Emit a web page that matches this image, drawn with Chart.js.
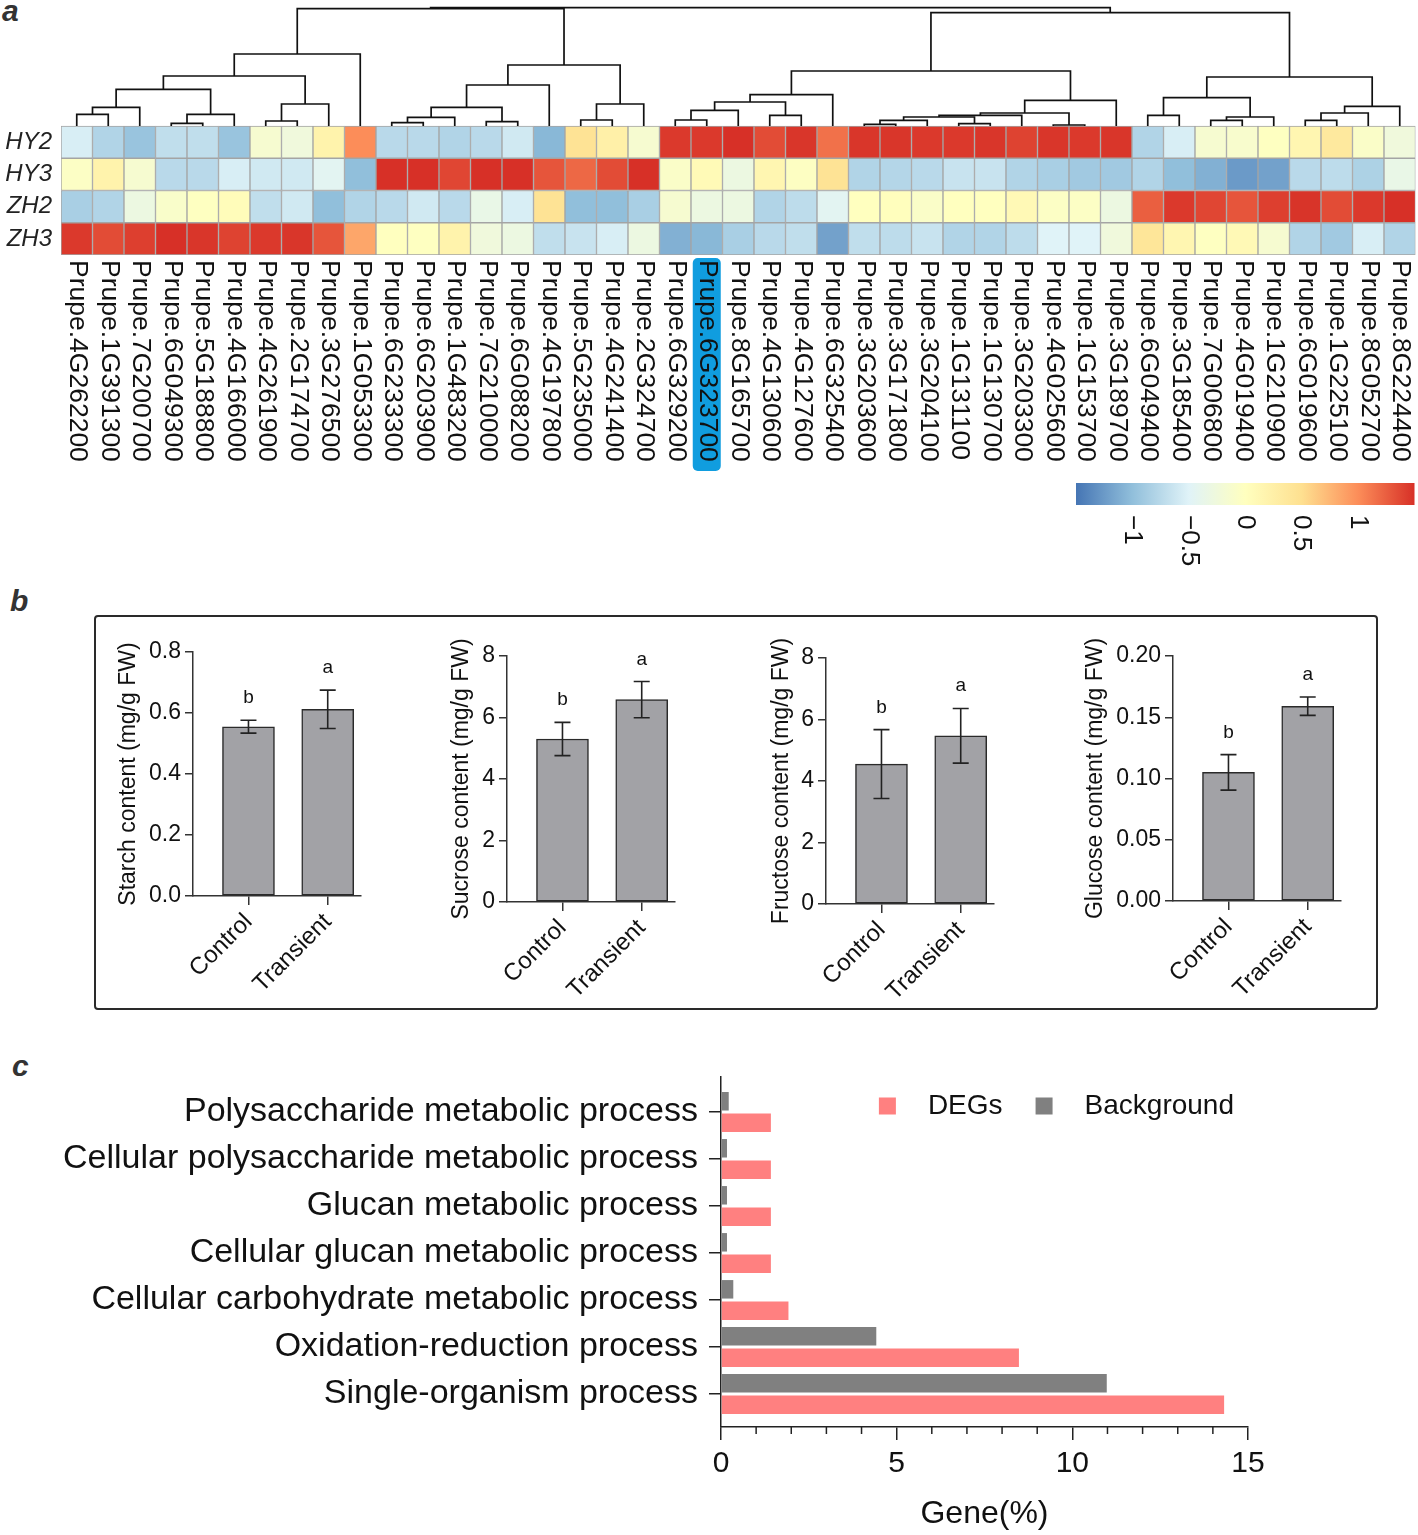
<!DOCTYPE html>
<html>
<head>
<meta charset="utf-8">
<script src="https://cdn.jsdelivr.net/npm/chart.js@4.4.0/dist/chart.umd.min.js"></script>
<style>
  body { margin: 0; background: #fff; width: 1418px; height: 1535px; position: relative; overflow: hidden; }
  .pane { position: absolute; }
  .tag { position: absolute; font: italic bold 30px "Liberation Sans", Arial, sans-serif; color: #333; line-height: 30px; }
  #boxB { position: absolute; left: 94px; top: 615px; width: 1284px; height: 395px; box-sizing: border-box;
          border: 2px solid #2a2a2a; border-radius: 4px; }
</style>
</head>
<body>
<div class="tag" style="left:2px;top:-4px">a</div>
<div class="tag" style="left:10px;top:586px">b</div>
<div class="tag" style="left:12px;top:1051px">c</div>

<div class="pane" style="left:0;top:0;width:1418px;height:580px"><canvas id="heat"></canvas></div>

<div id="boxB"></div>
<div class="pane" style="left:93px;top:620px;width:283px;height:385px"><canvas id="starch"></canvas></div>
<div class="pane" style="left:407px;top:620px;width:283px;height:385px"><canvas id="sucrose"></canvas></div>
<div class="pane" style="left:726px;top:620px;width:283px;height:385px"><canvas id="fructose"></canvas></div>
<div class="pane" style="left:1073px;top:620px;width:283px;height:385px"><canvas id="glucose"></canvas></div>

<div class="pane" style="left:0;top:1050px;width:1418px;height:485px"><canvas id="go"></canvas></div>

<script>
// ---------- panel a: heatmap data (row-scaled expression) ----------
const GENES = [
  'Prupe.4G262200', 'Prupe.1G391300', 'Prupe.7G200700', 'Prupe.6G049300', 'Prupe.5G188800',
  'Prupe.4G166000', 'Prupe.4G261900', 'Prupe.2G174700', 'Prupe.3G276500', 'Prupe.1G053300',
  'Prupe.6G233300', 'Prupe.6G203900', 'Prupe.1G483200', 'Prupe.7G210000', 'Prupe.6G088200',
  'Prupe.4G197800', 'Prupe.5G235000', 'Prupe.4G241400', 'Prupe.2G324700', 'Prupe.6G329200',
  'Prupe.6G323700', 'Prupe.8G165700', 'Prupe.4G130600', 'Prupe.4G127600', 'Prupe.6G325400',
  'Prupe.3G203600', 'Prupe.3G171800', 'Prupe.3G204100', 'Prupe.1G131100', 'Prupe.1G130700',
  'Prupe.3G203300', 'Prupe.4G025600', 'Prupe.1G153700', 'Prupe.3G189700', 'Prupe.6G049400',
  'Prupe.3G185400', 'Prupe.7G006800', 'Prupe.4G019400', 'Prupe.1G210900', 'Prupe.6G019600',
  'Prupe.1G225100', 'Prupe.8G052700', 'Prupe.8G224400'
];
const HIGHLIGHT = 'Prupe.6G323700';
const SAMPLES = ['HY2', 'HY3', 'ZH2', 'ZH3'];

const HY2 = [-0.55, -0.8, -0.95, -0.7, -0.7, -0.95, -0.15, -0.25, 0.2, 1.0,
  -0.75, -0.75, -0.8, -0.75, -0.6, -1.05, 0.45, 0.25, -0.15, 1.45,
  1.45, 1.5, 1.35, 1.47, 1.15, 1.47, 1.47, 1.45, 1.45, 1.47,
  1.4, 1.47, 1.45, 1.47, -0.8, -0.55, -0.15, -0.12, -0.02, 0.15,
  0.35, -0.08, -0.25];
const HY3 = [-0.05, 0.2, -0.15, -0.75, -0.75, -0.55, -0.6, -0.6, -0.45, -1.0,
  1.5, 1.5, 1.38, 1.5, 1.5, 1.3, 1.2, 1.35, 1.5, -0.08,
  0.08, -0.3, 0.15, -0.03, 0.45, -0.8, -0.78, -0.75, -0.65, -0.65,
  -0.8, -0.85, -0.9, -0.9, -0.8, -1.0, -1.1, -1.25, -1.2, -0.75,
  -0.72, -0.82, -0.35];
const ZH2 = [-0.85, -0.8, -0.3, -0.1, -0.02, 0.05, -0.7, -0.6, -1.0, -0.8,
  -0.75, -0.6, -0.75, -0.35, -0.55, 0.45, -1.0, -1.0, -0.85, -0.15,
  -0.3, -0.3, -0.8, -0.72, -0.45, 0.0, 0.02, -0.08, 0.0, 0.0,
  0.1, -0.05, -0.05, -0.3, 1.25, 1.45, 1.38, 1.3, 1.42, 1.48,
  1.35, 1.45, 1.5];
const ZH3 = [1.45, 1.35, 1.42, 1.5, 1.47, 1.4, 1.45, 1.47, 1.3, 0.85,
  0.0, -0.02, 0.2, -0.25, -0.3, -0.7, -0.65, -0.55, -0.3, -1.1,
  -1.05, -0.85, -0.75, -0.7, -1.2, -0.7, -0.72, -0.65, -0.8, -0.8,
  -0.72, -0.5, -0.5, -0.25, 0.4, 0.15, -0.02, 0.1, -0.15, -0.8,
  -0.9, -0.55, -0.8];

// column clustering, hclust style: [left, right, height]; negative = leaf number
const MERGES = [
  [-1, -2, 0.35], [1, -3, 0.56], [-4, -5, 0.08], [3, -6, 0.35], [2, 4, 1.10],
  [-7, -8, 0.15], [6, -9, 0.66], [5, 7, 1.50], [8, -10, 2.16], [-11, -12, 0.10],
  [10, -13, 0.26], [-14, -15, 0.13], [11, 12, 0.56], [13, -16, 1.23], [-17, -18, 0.18],
  [15, -19, 0.66], [14, 16, 1.83], [9, 17, 3.52], [-20, -21, 0.18], [19, -22, 0.47],
  [-23, -24, 0.32], [20, 21, 0.72], [22, -25, 0.94], [-26, -27, 0.05], [24, -28, 0.17],
  [-29, -30, 0.07], [25, 26, 0.27], [27, -31, 0.32], [-32, -33, 0.03], [28, 29, 0.39],
  [30, -34, 0.77], [23, 31, 1.65], [-35, -36, 0.32], [-37, -38, 0.17], [34, -39, 0.27],
  [33, 35, 0.85], [-40, -41, 0.17], [37, -42, 0.39], [38, -43, 0.59], [36, 39, 1.47],
  [32, 40, 3.40], [18, 41, 3.55]
];

const SCALE_TICKS = [-1, -0.5, 0, 0.5, 1];
const SCALE_MIN = -1.5, SCALE_MAX = 1.5;
const PALETTE = ['#4575b4', '#91bfdb', '#e0f3f8', '#ffffbf', '#fee090', '#fc8d59', '#d73027'];

// ---------- panel b ----------
const GROUPS = ['Control', 'Transient'];
const STARCH = [0.555, 0.612], STARCH_SD = [0.021, 0.063];
const SUCROSE = [5.30, 6.58], SUCROSE_SD = [0.54, 0.59];
const FRUCTOSE = [4.55, 5.47], FRUCTOSE_SD = [1.12, 0.89];
const GLUCOSE = [0.105, 0.159], GLUCOSE_SD = [0.0145, 0.0075];
const LETTERS = ['b', 'a'];

// ---------- panel c ----------
const GO_TERMS = [
  'Polysaccharide metabolic process',
  'Cellular polysaccharide metabolic process',
  'Glucan metabolic process',
  'Cellular glucan metabolic process',
  'Cellular carbohydrate metabolic process',
  'Oxidation-reduction process',
  'Single-organism process'
];
const DEG_PCT = [1.42, 1.42, 1.42, 1.42, 1.92, 8.48, 14.32];
const BG_PCT = [0.22, 0.17, 0.17, 0.17, 0.35, 4.42, 10.98];

const FONT = '"Liberation Sans", Arial, sans-serif';
Chart.defaults.font.family = FONT;
Chart.defaults.color = '#111';
Chart.defaults.animation = false;

function hexRgb(h) {
  return [1, 3, 5].map(i => parseInt(h.slice(i, i + 2), 16));
}
function zColor(v) {
  const t = Math.max(0, Math.min(1, (v - SCALE_MIN) / (SCALE_MAX - SCALE_MIN))) * (PALETTE.length - 1);
  const i = Math.min(PALETTE.length - 2, Math.floor(t));
  const f = t - i;
  const a = hexRgb(PALETTE[i]), b = hexRgb(PALETTE[i + 1]);
  const c = a.map((u, k) => Math.round(u + (b[k] - u) * f));
  return `rgb(${c[0]},${c[1]},${c[2]})`;
}

// dendrogram above the heatmap
const TREE_GAIN = 1.033;
const treePlugin = {
  id: 'tree',
  afterDatasetsDraw(chart) {
    const { ctx, scales: { x, y } } = chart;
    const pos = [], hgt = [];
    const node = k => k < 0 ? [x.getPixelForValue(-k - 1), 0] : [pos[k - 1], hgt[k - 1]];
    const py = h => y.getPixelForValue(SAMPLES.length + h * TREE_GAIN);
    ctx.save();
    ctx.strokeStyle = '#111';
    ctx.lineWidth = 1.7;
    MERGES.forEach(([a, b, h]) => {
      const [xa, ha] = node(a);
      const [xb, hb] = node(b);
      ctx.beginPath();
      ctx.moveTo(xa, py(ha));
      ctx.lineTo(xa, py(h));
      ctx.lineTo(xb, py(h));
      ctx.lineTo(xb, py(hb));
      ctx.stroke();
      pos.push((xa + xb) / 2);
      hgt.push(h);
    });
    ctx.restore();
  }
};

// rotated gene names + colour key
const labelPlugin = {
  id: 'geneLabels',
  afterDraw(chart) {
    const { ctx, scales: { x, y } } = chart;
    const top = y.getPixelForValue(0) + 5;
    ctx.save();
    ctx.font = '26.5px ' + FONT;
    GENES.forEach((g, i) => {
      const cx = x.getPixelForValue(i);
      if (g === HIGHLIGHT) {
        ctx.fillStyle = '#109ddf';
        ctx.beginPath();
        ctx.roundRect(cx - 14, top - 2, 28, 213, 5);
        ctx.fill();
      }
      ctx.save();
      ctx.translate(cx + 1, top);
      ctx.rotate(Math.PI / 2);
      ctx.fillStyle = '#111';
      ctx.textAlign = 'left';
      ctx.textBaseline = 'middle';
      ctx.fillText(g, 0, 0);
      ctx.restore();
    });

    // colour key
    const kx0 = 1076, kx1 = chart.chartArea.right - 1, ky = 483, kh = 22;
    const grad = ctx.createLinearGradient(kx0, 0, kx1, 0);
    PALETTE.forEach((c, i) => grad.addColorStop(i / (PALETTE.length - 1), c));
    ctx.fillStyle = grad;
    ctx.fillRect(kx0, ky, kx1 - kx0, kh);
    ctx.font = '26px ' + FONT;
    SCALE_TICKS.forEach(v => {
      const px = kx0 + (v - SCALE_MIN) / (SCALE_MAX - SCALE_MIN) * (kx1 - kx0);
      ctx.save();
      ctx.translate(px, ky + kh + 10);
      ctx.rotate(Math.PI / 2);
      ctx.fillStyle = '#111';
      ctx.textAlign = 'left';
      ctx.textBaseline = 'middle';
      ctx.fillText(String(v).replace('-', '\u2212'), 0, 0);
      ctx.restore();
    });
    ctx.restore();
  }
};

const ROW_Z = [HY2, HY3, ZH2, ZH3];
new Chart(document.getElementById('heat'), {
  type: 'bar',
  data: {
    labels: GENES,
    datasets: ROW_Z.map((vals, r) => ({
      label: SAMPLES[r],
      data: vals.map(() => [SAMPLES.length - 1 - r, SAMPLES.length - r]),
      backgroundColor: vals.map(zColor),
      borderColor: '#a4a4a4',
      borderWidth: 1,
      borderSkipped: false,
      barPercentage: 1,
      categoryPercentage: 1,
      grouped: false
    }))
  },
  options: {
    responsive: true,
    maintainAspectRatio: false,
    layout: { padding: { top: 6, right: 2.5, bottom: 325, left: 0 } },
    plugins: { legend: { display: false }, tooltip: { enabled: false } },
    scales: {
      x: { display: false },
      y: {
        min: 0,
        max: 7.72,
        afterBuildTicks: s => { s.ticks = SAMPLES.map((_, r) => ({ value: SAMPLES.length - 0.5 - r })); },
        afterFit: s => { s.width = 61; s.paddingTop = 0; s.paddingBottom = 0; },
        ticks: { callback: (v, i) => SAMPLES[i], font: { size: 24, style: 'italic' }, color: '#222', padding: 9 },
        grid: { display: false, drawTicks: false },
        border: { display: false }
      }
    }
  },
  plugins: [treePlugin, labelPlugin]
});

// ---------- panel b: four sugar charts ----------
function sugarChart(id, mean, sd, cfg) {
  const errPlugin = {
    id: 'err_' + id,
    afterDatasetsDraw(chart) {
      const { ctx, scales: { x, y } } = chart;
      ctx.save();
      ctx.strokeStyle = '#222';
      ctx.lineWidth = 1.6;
      ctx.fillStyle = '#111';
      ctx.font = '19px ' + FONT;
      ctx.textAlign = 'center';
      mean.forEach((m, i) => {
        const px = x.getPixelForValue(i + 1);
        const yt = y.getPixelForValue(m + sd[i]);
        const yb = y.getPixelForValue(m - sd[i]);
        ctx.beginPath();
        ctx.moveTo(px, yb); ctx.lineTo(px, yt);
        ctx.moveTo(px - 8, yt); ctx.lineTo(px + 8, yt);
        ctx.moveTo(px - 8, yb); ctx.lineTo(px + 8, yb);
        ctx.stroke();
        ctx.fillText(LETTERS[i], px, yt - 17);
      });
      ctx.restore();
    }
  };
  new Chart(document.getElementById(id), {
    type: 'bar',
    data: {
      datasets: [{
        data: mean.map((m, i) => ({ x: i + 1, y: m })),
        backgroundColor: '#a2a2a6',
        borderColor: '#2a2a2a',
        borderWidth: 1.5,
        borderSkipped: false,
        barThickness: 52
      }]
    },
    options: {
      responsive: true,
      maintainAspectRatio: false,
      layout: { padding: { top: cfg.top, right: 15, left: 0, bottom: 0 } },
      plugins: { legend: { display: false }, tooltip: { enabled: false } },
      scales: {
        x: {
          type: 'linear',
          min: 0.3,
          max: 2.42,
          offset: false,
          afterBuildTicks: s => { s.ticks = GROUPS.map((_, i) => ({ value: i + 1 })); },
          afterFit: s => { s.height = cfg.xh; },
          ticks: { callback: (v, i) => GROUPS[i], minRotation: 45, maxRotation: 45, autoSkip: false,
                   font: { size: 24 }, color: '#111', padding: 3 },
          grid: { drawOnChartArea: false, offset: false, tickLength: 9, color: '#333', lineWidth: 1.5 },
          border: { color: '#333', width: 1.5 }
        },
        y: {
          min: 0,
          max: cfg.max,
          afterFit: s => { s.width = 100; },
          ticks: { stepSize: cfg.step, callback: v => v.toFixed(cfg.dec), font: { size: 23 }, color: '#111', padding: 4 },
          grid: { drawOnChartArea: false, tickLength: 8, color: '#333', lineWidth: 1.5 },
          border: { color: '#333', width: 1.5 },
          title: { display: true, text: cfg.title, font: { size: 23 }, color: '#111',
                   padding: { top: cfg.tp, bottom: 0 } }
        }
      }
    },
    plugins: [errPlugin]
  });
}

sugarChart('starch', STARCH, STARCH_SD,
  { title: 'Starch content (mg/g FW)', max: 0.8, step: 0.2, dec: 1, top: 32, xh: 109, tp: 22 });
sugarChart('sucrose', SUCROSE, SUCROSE_SD,
  { title: 'Sucrose content (mg/g FW)', max: 8, step: 2, dec: 0, top: 36, xh: 103, tp: 41 });
sugarChart('fructose', FRUCTOSE, FRUCTOSE_SD,
  { title: 'Fructose content (mg/g FW)', max: 8, step: 2, dec: 0, top: 38, xh: 101, tp: 42 });
sugarChart('glucose', GLUCOSE, GLUCOSE_SD,
  { title: 'Glucose content (mg/g FW)', max: 0.2, step: 0.05, dec: 2, top: 36, xh: 104, tp: 9 });

// ---------- panel c: GO enrichment ----------
const minorTicks = {
  id: 'minorTicks',
  afterDraw(chart) {
    const { ctx, scales: { x } } = chart;
    const y0 = chart.chartArea.bottom;
    ctx.save();
    ctx.strokeStyle = '#222';
    ctx.lineWidth = 1.5;
    for (let v = x.min; v <= x.max; v++) {
      if (v % 5 === 0) continue;
      const px = x.getPixelForValue(v);
      ctx.beginPath();
      ctx.moveTo(px, y0);
      ctx.lineTo(px, y0 + 7);
      ctx.stroke();
    }
    ctx.restore();
  }
};

const goLegend = {
  id: 'goLegend',
  afterDraw(chart) {
    const { ctx, chartArea } = chart;
    const items = chart.data.datasets.slice().reverse();
    ctx.save();
    ctx.font = '28px ' + FONT;
    ctx.textBaseline = 'middle';
    const box = 17, gap = 32, sep = 33;
    const total = items.reduce((s, d) => s + box + gap + ctx.measureText(d.label).width, 0) + sep * (items.length - 1);
    let px = chartArea.right - 14 - total;
    const cy = chartArea.top + 29;
    items.forEach(d => {
      ctx.fillStyle = d.backgroundColor;
      ctx.fillRect(px, cy - box / 2, box, box);
      px += box + gap;
      ctx.fillStyle = '#111';
      ctx.fillText(d.label, px, cy);
      px += ctx.measureText(d.label).width + sep;
    });
    ctx.restore();
  }
};

new Chart(document.getElementById('go'), {
  type: 'bar',
  data: {
    datasets: [
      { label: 'Background', data: BG_PCT.map((v, i) => ({ x: v, y: i })), backgroundColor: '#808080' },
      { label: 'DEGs', data: DEG_PCT.map((v, i) => ({ x: v, y: i })), backgroundColor: '#ff8080' }
    ]
  },
  options: {
    indexAxis: 'y',
    responsive: true,
    maintainAspectRatio: false,
    layout: { padding: { top: 27, right: 170, left: 0, bottom: 0 } },
    datasets: { bar: { categoryPercentage: 0.915, barPercentage: 0.86 } },
    plugins: { legend: { display: false }, tooltip: { enabled: false } },
    scales: {
      y: {
        type: 'linear',
        reverse: true,
        min: -0.745,
        max: 6.7,
        offset: false,
        afterBuildTicks: s => { s.ticks = GO_TERMS.map((_, i) => ({ value: i })); },
        afterFit: s => { s.width = 721; s.paddingTop = 0; s.paddingBottom = 0; },
        ticks: { callback: (v, i) => GO_TERMS[i], autoSkip: false, font: { size: 34 }, color: '#111', padding: 11 },
        grid: { drawOnChartArea: false, offset: false, tickLength: 12, color: '#222', lineWidth: 1.5 },
        border: { color: '#222', width: 1.5 }
      },
      x: {
        type: 'linear',
        min: 0,
        max: 15,
        afterFit: s => { s.height = 108; },
        ticks: { stepSize: 5, font: { size: 30 }, color: '#111', padding: 6 },
        grid: { drawOnChartArea: false, tickLength: 13, color: '#222', lineWidth: 1.5 },
        border: { color: '#222', width: 1.5 },
        title: { display: true, text: 'Gene(%)', font: { size: 32 }, color: '#111', padding: { top: 0, bottom: 2 } }
      }
    }
  },
  plugins: [minorTicks, goLegend]
});
</script>
</body>
</html>
